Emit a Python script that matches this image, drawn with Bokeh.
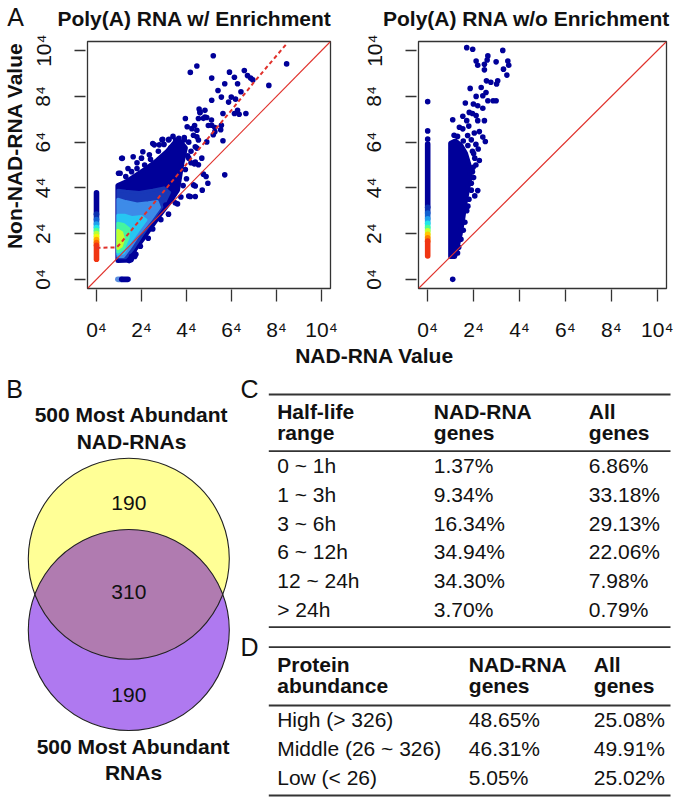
import math
import numpy as np
from bokeh.plotting import figure
from bokeh.models import Range1d, FixedTicker, Slope
from bokeh.layouts import column, row
from bokeh.embed import file_html
from bokeh.resources import INLINE
from bokeh.core.properties import value

# ---------------------------------------------------------------- data
tick_vals = [0, 2, 4, 6, 8, 10]
tick_labels = ["0\u2074", "2\u2074", "4\u2074", "6\u2074", "8\u2074", "10\u2074"]
panel_titles = ["Poly(A) RNA w/ Enrichment", "Poly(A) RNA w/o Enrichment"]
x_title = "NAD-RNA Value"
y_title = "Non-NAD-RNA Value"

# --- Poly(A) RNA w/ Enrichment (4th-root units)
enr_col0_lo = [2.85, 2.62, 2.42, 2.27, 2.13, 2.00, 1.87, 1.74, 1.61, 1.49, 0.88]
enr_col0_hi = [3.78, 2.85, 2.62, 2.42, 2.27, 2.13, 2.00, 1.87, 1.74, 1.61, 1.49]
enr_col0_col = ["#000099", "#0a2fb0", "#1160d0", "#1fa0ec", "#20e6e8", "#50fe90",
                "#b4ff3a", "#f4f80a", "#ffb000", "#ff6a00", "#f03512"]
enr_row0_x0 = [0.95, 1.12]
enr_row0_x1 = [1.12, 1.40]
enr_row0_col = ["#5a8ee0", "#000099"]
enr_core_x = [0.95, 0.95, 1.3, 1.85, 2.3, 2.7, 3.15, 3.45, 3.7, 3.95, 3.8, 3.7, 3.6, 3.3,
              2.95, 2.65, 2.15, 1.7, 1.55]
enr_core_y = [0.82, 4.1, 4.25, 4.6, 4.9, 5.2, 5.6, 5.95, 6.05, 5.75, 5.1, 4.5, 3.9, 3.45,
              3.0, 2.6, 1.9, 1.3, 0.85]
enr_zone_xs = [[0.95, 0.95, 1.3, 1.9, 2.5, 3.0, 3.25, 3.0, 2.5, 2.0, 1.6, 1.3],
               [0.95, 0.95, 1.3, 1.8, 2.3, 2.7, 2.8, 2.4, 1.9, 1.5, 1.2],
               [0.95, 0.95, 1.25, 1.6, 2.0, 2.2, 1.9, 1.5, 1.2],
               [0.95, 0.95, 1.2, 1.45, 1.4, 1.2],
               [0.95, 0.95, 1.12, 1.2, 1.1]]
enr_zone_ys = [[0.95, 3.9, 3.85, 3.8, 3.9, 4.0, 3.8, 3.3, 2.6, 1.9, 1.3, 0.95],
               [1.0, 3.5, 3.4, 3.3, 3.35, 3.4, 3.15, 2.6, 2.0, 1.4, 1.0],
               [1.1, 2.8, 2.8, 2.7, 2.75, 2.6, 2.2, 1.65, 1.15],
               [1.2, 2.45, 2.4, 2.2, 1.8, 1.35],
               [1.35, 2.15, 2.05, 1.75, 1.45]]
enr_zone_col = ["#1838b8", "#3d8be8", "#27c6f2", "#45f5a0", "#c0ff30"]
enr_pts_x = [5.19, 4.46, 4.17, 8.45, 7.66, 5.12, 5.91, 6.57, 6.13, 6.71, 6.85, 6.95, 5.40,
             5.70, 6.27, 6.42, 5.12, 5.55, 5.99, 6.18, 5.87, 6.27, 6.34, 6.64, 4.82, 4.56,
             4.60, 4.53, 4.75, 4.90, 5.11, 3.95, 4.24, 4.36, 4.97, 5.12, 5.26, 5.52, 5.26,
             5.19, 5.62, 4.03, 4.46, 4.39, 4.90, 4.46, 4.68, 4.39, 4.53, 4.87, 5.70, 4.39,
             4.10, 4.39, 3.66, 2.91, 3.20, 2.57, 2.79, 3.52, 3.90, 3.73, 4.20, 2.06, 2.35,
             1.63, 1.15, 1.40, 1.80, 0.98, 3.30, 3.60, 4.10, 4.35, 4.75, 4.95, 4.70, 3.60,
             3.20, 1.70, 1.45,
             1.12, 1.05, 1.56, 2.14, 2.50, 2.94, 3.22, 1.30, 1.80, 2.40, 2.00, 2.75, 3.00,
             3.40, 3.90, 4.10, 4.05, 4.20, 3.95, 4.00, 3.85, 4.17, 4.31, 3.08, 2.86, 2.50,
             2.30, 1.95, 1.56, 1.75, 3.50, 3.75, 4.46, 4.31, 4.53, 4.60, 4.82, 5.62, 6.13,
             5.55]
enr_pts_y = [9.78, 9.33, 9.05, 9.42, 8.48, 8.80, 9.06, 9.13, 8.84, 8.91, 8.80, 8.72, 8.26,
             8.55, 8.55, 8.20, 7.83, 7.97, 7.97, 7.88, 7.75, 7.39, 7.22, 7.25, 7.39, 7.45,
             7.28, 7.03, 7.04, 7.08, 6.97, 7.03, 6.59, 6.73, 6.73, 6.74, 6.64, 6.54, 6.45,
             6.32, 6.06, 6.67, 6.23, 5.80, 6.01, 5.74, 5.30, 5.13, 5.01, 4.50, 4.57, 4.08,
             3.64, 3.62, 6.17, 6.10, 6.10, 5.88, 5.88, 6.09, 6.10, 5.65, 5.60, 5.58, 5.45,
             5.36, 5.29, 4.85, 5.10, 4.64, 5.75, 5.90, 5.30, 5.05, 4.60, 4.20, 3.90, 3.30,
             2.85, 1.00, 0.82,
             5.29, 4.64, 4.71, 5.00, 5.94, 6.12, 6.12, 4.50, 4.85, 5.25, 5.30, 5.60, 5.90,
             6.25, 6.20, 6.00, 5.40, 5.10, 4.80, 4.40, 4.10, 3.62, 4.13, 3.25, 2.61, 2.20,
             1.80, 1.45, 1.01, 1.10, 3.35, 3.60, 6.52, 6.30, 6.09, 7.32, 7.10, 7.25, 7.25,
             6.74]
enr_fit_x = [0.0, 0.9, 1.0, 2.0, 3.0, 4.0, 5.0, 6.0, 7.0, 8.45]
enr_fit_y = [1.38, 1.40, 1.50, 2.68, 3.86, 5.04, 6.22, 7.40, 8.62, 10.30]

# --- Poly(A) RNA w/o Enrichment
ne_col0_lo = [3.15, 2.90, 2.65, 2.45, 2.27, 2.12, 1.97, 1.82, 1.67, 1.02]
ne_col0_hi = [5.92, 3.15, 2.90, 2.65, 2.45, 2.27, 2.12, 1.97, 1.82, 1.67]
ne_col0_col = ["#000099", "#0a2fb0", "#1160d0", "#1fa0ec", "#20e6e8", "#50fe90",
               "#c8ff30", "#ffc800", "#ff8000", "#f03512"]
ne_col0_pts_y = [6.13, 6.49, 7.77]
ne_core_x = [1.0, 1.0, 1.2, 1.45, 1.65, 1.8, 1.85, 1.75, 1.62, 1.52, 1.42, 1.3, 1.18]
ne_core_y = [1.0, 5.95, 6.05, 5.85, 5.5, 5.0, 4.5, 4.0, 3.3, 2.6, 2.0, 1.5, 1.0]
ne_pts_x = [1.70, 1.96, 3.27, 2.62, 2.59, 2.11, 2.18, 2.47, 2.47, 2.98, 3.49, 3.53, 3.30,
            3.45, 2.56, 2.75, 3.05, 3.00, 1.85, 2.33, 2.54, 2.40, 2.11, 2.62, 2.85, 2.98,
            1.64, 1.99, 2.18, 2.40, 1.81, 1.95, 2.11, 1.53, 1.09, 1.70, 2.18, 2.47, 1.38,
            1.53, 1.79, 2.03, 2.25, 2.40, 2.51, 1.74, 1.90, 2.10, 2.20, 2.00, 2.25, 2.10,
            1.95, 2.18, 2.05, 1.90, 1.75, 1.09,
            1.95, 2.05, 1.98, 2.00, 1.90, 1.80, 1.70, 1.62, 1.55, 1.45, 1.35, 1.30, 1.55,
            1.30, 1.15, 1.75]
ne_pts_y = [10.13, 10.06, 10.01, 9.77, 9.59, 9.55, 9.36, 9.40, 9.16, 9.51, 9.55, 9.36, 9.19,
            8.93, 8.68, 8.62, 8.68, 8.54, 8.35, 8.39, 8.17, 8.03, 8.00, 7.81, 7.81, 7.81,
            7.71, 7.67, 7.59, 7.48, 7.30, 7.25, 7.16, 7.13, 6.98, 6.94, 6.94, 6.94, 6.65,
            6.58, 6.70, 6.40, 6.46, 6.22, 6.03, 6.29, 6.10, 5.90, 5.70, 5.50, 5.20, 5.00,
            4.70, 3.88, 3.65, 4.20, 3.20, 0.00,
            5.60, 5.30, 4.90, 4.45, 3.90, 3.50, 3.00, 2.50, 2.15, 1.75, 1.40, 1.15, 6.05,
            6.25, 6.30, 5.85]

# --- Venn (B)
venn_counts = [190, 310, 190]
venn_top_label = ["500 Most Abundant", "NAD-RNAs"]
venn_bottom_label = ["500 Most Abundant", "RNAs"]

# --- Table C
C_header = [["Half-life", "range"], ["NAD-RNA", "genes"], ["All", "genes"]]
C_ranges = ["0 ~ 1h", "1 ~ 3h", "3 ~ 6h", "6 ~ 12h", "12 ~ 24h", "> 24h"]
C_nad = [1.37, 9.34, 16.34, 34.94, 34.30, 3.70]
C_all = [6.86, 33.18, 29.13, 22.06, 7.98, 0.79]

# --- Table D
D_header = [["Protein", "abundance"], ["NAD-RNA", "genes"], ["All", "genes"]]
D_levels = ["High (> 326)", "Middle (26 ~ 326)", "Low (< 26)"]
D_nad = [48.65, 46.31, 5.05]
D_all = [25.08, 49.91, 25.02]

# ---------------------------------------------------------------- style
FONT = "Liberation Sans"
FS = "21px"
NAVY = "#000099"
RED = "#e0312b"
INK = "#111111"
DOT = 5.6


def plain(width, height, xr, yr):
    p = figure(width=width, height=height, x_range=Range1d(*xr), y_range=Range1d(*yr),
               output_backend="svg", toolbar_location=None, min_border=0,
               x_axis_location=None, y_axis_location=None)
    p.grid.visible = False
    p.outline_line_color = None
    return p


def txt(p, xs, ys, texts, size=FS, bold=False, align="left", angle=0.0):
    p.text(x=xs, y=ys, text=texts, text_font=value(FONT), text_font_size=value(size),
           text_font_style="bold" if bold else "normal", text_align=align,
           text_baseline="middle", text_color=INK, angle=angle)


def make_scatter(width, height, bl, br, bt, bb):
    p = figure(width=width, height=height,
               x_range=Range1d(-0.4, 10.4), y_range=Range1d(-0.4, 10.4),
               output_backend="svg", toolbar_location=None,
               min_border_left=bl, min_border_right=br,
               min_border_top=bt, min_border_bottom=bb)
    p.grid.visible = False
    p.outline_line_color = "#333333"
    p.outline_line_width = 1.3
    for ax in (p.xaxis[0], p.yaxis[0]):
        ax.ticker = FixedTicker(ticks=tick_vals)
        ax.major_label_overrides = {v: t for v, t in zip(tick_vals, tick_labels)}
        ax.axis_line_color = None
        ax.minor_tick_line_color = None
        ax.major_tick_line_color = "#333333"
        ax.major_tick_line_width = 1.3
        ax.major_tick_out = 13
        ax.major_label_text_font = FONT
        ax.major_label_text_font_size = FS
        ax.major_label_text_color = INK
    p.xaxis.major_tick_in = -1
    p.xaxis.major_label_standoff = 16
    p.yaxis.major_tick_in = -2
    p.yaxis.major_label_standoff = 20
    p.yaxis.major_label_orientation = "vertical"
    return p


# ---------------------------------------------------------------- header strip
ph = plain(677, 30, (0, 677), (30, 0))
txt(ph, [15], [16], ["A"], size="25px", align="center")
txt(ph, [194, 526], [18, 18], panel_titles, bold=True, align="center")

# ---------------------------------------------------------------- y-title strip
py = plain(28, 315, (0, 28), (345, 30))
txt(py, [14], [163], [y_title], bold=True, align="center", angle=math.pi / 2)

# ---------------------------------------------------------------- panel A left
pA1 = make_scatter(310, 315, 53, 8, 11, 56)
pA1.patch(enr_core_x, enr_core_y, fill_color=NAVY, line_color=NAVY, line_width=5,
          line_join="round")
pA1.patches(enr_zone_xs, enr_zone_ys, fill_color=enr_zone_col, line_color=enr_zone_col,
            line_width=3, line_join="round")
pA1.segment(x0=[0] * len(enr_col0_lo), y0=enr_col0_lo, x1=[0] * len(enr_col0_lo),
            y1=enr_col0_hi, line_color=enr_col0_col, line_width=DOT, line_cap="round")
pA1.segment(x0=enr_row0_x0, y0=[0] * 2, x1=enr_row0_x1, y1=[0] * 2,
            line_color=enr_row0_col, line_width=DOT, line_cap="round")
pA1.scatter(enr_pts_x, enr_pts_y, size=DOT, fill_color=NAVY, line_color=None)
pA1.add_layout(Slope(gradient=1, y_intercept=0, line_color=RED, line_width=1.1))
pA1.line(enr_fit_x, enr_fit_y, line_color=RED, line_width=2, line_dash="4 3")

# ---------------------------------------------------------------- panel A right
pA2 = make_scatter(339, 315, 80, 11, 10, 57)
pA2.patch(ne_core_x, ne_core_y, fill_color=NAVY, line_color=NAVY, line_width=5,
          line_join="round")
pA2.segment(x0=[0] * len(ne_col0_lo), y0=ne_col0_lo, x1=[0] * len(ne_col0_lo),
            y1=ne_col0_hi, line_color=ne_col0_col, line_width=DOT, line_cap="round")
pA2.scatter([0] * len(ne_col0_pts_y), ne_col0_pts_y, size=DOT, fill_color=NAVY,
            line_color=None)
pA2.scatter(ne_pts_x, ne_pts_y, size=DOT, fill_color=NAVY, line_color=None)
pA2.add_layout(Slope(gradient=1, y_intercept=0, line_color=RED, line_width=1.1))

# ---------------------------------------------------------------- bottom (B, C, D)
pb = plain(677, 454, (0, 677), (799, 345))
txt(pb, [374], [355], [x_title], bold=True, align="center")
txt(pb, [14, 249, 249], [388, 388, 646], ["B", "C", "D"], size="25px", align="center")

# Venn diagram
cx, cy1, cy2, r = 128.3, 558.3, 629.5, 100.5
a = (cy2 - cy1) / 2
t0 = math.asin(a / r)
t1 = np.linspace(t0, math.pi - t0, 80)
t2 = np.linspace(math.pi + t0, 2 * math.pi - t0, 80)
lens_x = np.concatenate([cx + r * np.cos(t1), cx + r * np.cos(t2)])
lens_y = np.concatenate([cy1 + r * np.sin(t1), cy2 + r * np.sin(t2)])
pb.circle(x=[cx], y=[cy1], radius=r, fill_color="#ffff96", line_color=None)
pb.circle(x=[cx], y=[cy2], radius=r, fill_color="#af79f0", line_color=None)
pb.patch(lens_x, lens_y, fill_color="#b07bb0", line_color=None)
pb.circle(x=[cx, cx], y=[cy1, cy2], radius=r, fill_color=None, line_color="#222222",
          line_width=1.1)
txt(pb, [cx, cx, cx], [502, 591, 694], [str(v) for v in venn_counts], align="center")
txt(pb, [131, 131], [414, 441], venn_top_label, bold=True, align="center")
txt(pb, [133, 133], [746, 772], venn_bottom_label, bold=True, align="center")

# Tables
RX0, RX1 = 268.3, 670
rules_y = [394, 450.7, 626.7, 646.7, 705, 795]
pb.segment(x0=[RX0] * 6, x1=[RX1] * 6, y0=rules_y, y1=rules_y,
           line_color="#333333", line_width=1.8)

C_cols = [276.7, 433.3, 588.3]
for cx_, hdr in zip(C_cols, C_header):
    txt(pb, [cx_, cx_], [410.7, 432.3], hdr, bold=True)
C_rows_y = [465 + 28.8 * i for i in range(len(C_ranges))]
txt(pb, [C_cols[0]] * len(C_ranges), C_rows_y, C_ranges)
txt(pb, [C_cols[1]] * len(C_nad), C_rows_y, [f"{v:.2f}%" for v in C_nad])
txt(pb, [C_cols[2]] * len(C_all), C_rows_y, [f"{v:.2f}%" for v in C_all])

D_cols = [276.7, 468.3, 593.3]
for cx_, hdr in zip(D_cols, D_header):
    txt(pb, [cx_, cx_], [664, 685], hdr, bold=True)
D_rows_y = [719 + 29.2 * i for i in range(len(D_levels))]
txt(pb, [D_cols[0]] * len(D_levels), D_rows_y, D_levels)
txt(pb, [D_cols[1]] * len(D_nad), D_rows_y, [f"{v:.2f}%" for v in D_nad])
txt(pb, [D_cols[2]] * len(D_all), D_rows_y, [f"{v:.2f}%" for v in D_all])

layout = column(ph, row(py, pA1, pA2), pb)
open("out.html", "w").write(file_html(layout, INLINE))
